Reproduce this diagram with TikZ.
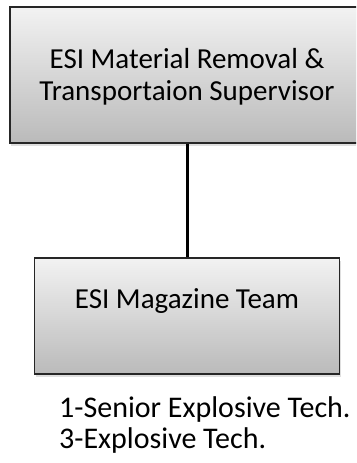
\documentclass[tikz,border=0pt]{standalone}
\usepackage{fontspec}
\setmainfont{Carlito}
\usetikzlibrary{shapes,arrows,positioning,calc,shadows}

\begin{document}
\begin{tikzpicture}[node distance=241pt, auto]
\tikzstyle{block} = [rectangle, draw=black!85, line width=1.4pt, top color=black!5, bottom color=black!27, text centered, inner sep=0pt, font=\fontsize{29}{32}\selectfont, drop shadow={shadow xshift=1pt, shadow yshift=-3pt, opacity=0.25}]
\tikzstyle{line} = [draw, line width=3pt]

\clip (0pt,0pt) rectangle (356pt,-463pt);

\node [block, align=center, minimum width=354pt, text height=93pt, text depth=43pt] (supervisor) at (187pt,-75pt) {ESI Material Removal \&\\Transportaion Supervisor};
\node [block, below of=supervisor, minimum width=305pt, text height=50pt, text depth=66pt] (team) {ESI Magazine Team};
\node [anchor=north west, align=left, inner sep=0pt, font=\fontsize{30}{31}\selectfont] (staff) at (59pt,-396pt) {1-Senior Explosive Tech.\\3-Explosive Tech.};

\path [line] (supervisor) -- (team);
\end{tikzpicture}
\end{document}
